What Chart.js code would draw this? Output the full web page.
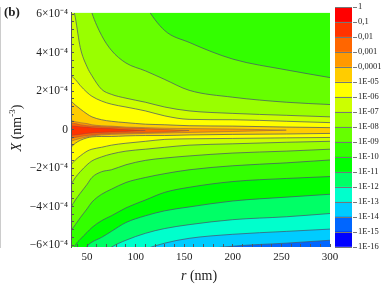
<!DOCTYPE html>
<html>
<head>
<meta charset="utf-8">
<script src="https://cdn.jsdelivr.net/npm/chart.js@4"></script>
<style>
    html, body { margin: 0; padding: 0; background: #fff; }
    #wrap { position: relative; width: 382px; height: 286px; overflow: hidden; font-family: "Liberation Serif", serif; color: #222; }
    canvas { position: absolute; left: 0; top: 0; }
    .label { position: absolute; white-space: nowrap; line-height: 1; }
    sup { font-size: 9px; line-height: 0; }
</style>
</head>
<body>
<div id="wrap">
    <canvas id="plot" width="382" height="286"></canvas>
    <canvas id="bar" width="382" height="286"></canvas>
    <div class="label" style="left:4px; top:5px; font-size:13px; font-weight:bold;">(b)</div>
    <div class="label" style="left:181px; top:269px; font-size:14px;"><i>r</i> (nm)</div>
    <div class="label" style="left:17px; top:128px; font-size:14px; transform: translate(-50%,-50%) rotate(-90deg);"><i>X</i> (nm<sup>-3</sup>)</div>
</div>
<script>
// r in nm, X in units of 1e-4 nm^-3
const rValues = [33.5, 38, 43, 50, 55, 65, 75, 90, 110, 130, 155, 200, 255, 300];

// contours above the centre ridge, outermost first
const upper9  = [14.61, 14.1, 13.59, 12.57, 12.06, 11.04, 10.03, 8.5, 6.46, 5.14, 4.53, 3.66, 3.10, 2.70];
const upper8  = [10.03, 9.26, 8.24, 6.97, 6.06, 4.89, 4.12, 3.46, 3.05, 2.60, 2.04, 1.68, 1.42, 1.30];
const upper7  = [6.87, 5.80, 4.27, 3.26, 2.80, 2.09, 1.83, 1.63, 1.42, 1.17, 0.97, 0.84, 0.74, 0.66];
const upper6  = [2.80, 2.60, 2.29, 1.93, 1.73, 1.48, 1.32, 1.17, 0.97, 0.71, 0.53, 0.51, 0.43, 0.36];
const upper5  = [1.48, 1.27, 1.07, 0.81, 0.66, 0.51, 0.43, 0.36, 0.28, 0.25, 0.20, 0.18, 0.13, 0.10];

// contours below the ridge, innermost first
const lower5  = [-0.92, -0.71, -0.56, -0.43, -0.38, -0.36, -0.36, -0.33, -0.31, -0.31, -0.28, -0.25, -0.23, -0.20];
const lower6  = [-1.83, -1.58, -1.37, -1.12, -1.02, -0.92, -0.81, -0.71, -0.61, -0.51, -0.48, -0.46, -0.43, -0.41];
const lower7  = [-2.85, -2.49, -2.19, -1.83, -1.63, -1.42, -1.27, -1.12, -1.02, -0.92, -0.81, -0.74, -0.66, -0.61];
const lower8  = [-4.02, -3.66, -3.31, -2.85, -2.49, -2.19, -2.09, -1.83, -1.60, -1.48, -1.37, -1.22, -1.12, -1.02];
const lower9  = [-5.24, -4.94, -4.58, -4.12, -3.77, -3.36, -3.10, -2.75, -2.49, -2.29, -2.09, -1.88, -1.73, -1.58];
const lower10 = [-6.56, -6.0, -5.70, -5.34, -5.09, -4.73, -4.48, -4.07, -3.66, -3.26, -3.00, -2.70, -2.54, -2.44];
const lower11 = [-7.79, -7.28, -6.67, -6.06, -5.85, -5.60, -5.29, -4.83, -4.48, -4.22, -4.02, -3.71, -3.51, -3.36];
const lower12 = [-8.30, -8.04, -7.68, -7.28, -7.02, -6.51, -6.11, -5.75, -5.39, -5.14, -4.94, -4.68, -4.53, -4.36];
const lower13 = [-9.82, -9.57, -9.31, -8.80, -8.55, -8.04, -7.53, -6.67, -6.21, -5.90, -5.65, -5.44, -5.29, -5.17];
const lower14 = [-11.35, -11.09, -10.84, -10.33, -9.82, -9.31, -8.80, -8.04, -7.28, -6.87, -6.36, -6.06, -5.90, -5.75];

// lens shaped bands on the ridge, they close before the right edge
const ridge4Top = [0.46, 0.41, 0.36, 0.31, 0.25, 0.20, 0.18, 0.13, 0.10, 0.07, 0.05, 0.03, -0.03, null];
const ridge4Bot = [-0.61, -0.53, -0.46, -0.38, -0.33, -0.28, -0.25, -0.23, -0.20, -0.18, -0.15, -0.10, -0.03, null];
const ridge3Top = [0.33, 0.31, 0.25, 0.20, 0.18, 0.15, 0.13, 0.08, 0.05, 0, -0.05, null, null, null];
const ridge3Bot = [-0.46, -0.41, -0.36, -0.31, -0.28, -0.23, -0.20, -0.18, -0.15, -0.13, -0.05, null, null, null];
const ridge2Top = [0.20, 0.18, 0.15, 0.13, 0.10, 0.08, 0.05, 0, -0.05, null, null, null, null, null];
const ridge2Bot = [-0.31, -0.28, -0.25, -0.20, -0.18, -0.15, -0.13, -0.10, -0.05, null, null, null, null, null];

const xTickValues = [50, 100, 150, 200, 250, 300];
const yTickValues = [6, 4, 2, 0, -2, -4, -6];
const yTickLabels = ['6×10⁻⁴', '4×10⁻⁴', '2×10⁻⁴', '0', '−2×10⁻⁴', '−4×10⁻⁴', '−6×10⁻⁴'];

const barLabels = ['1', '0,1', '0,01', '0,001', '0,0001', '1E-05', '1E-06', '1E-07', '1E-08', '1E-09', '1E-10', '1E-11', '1E-12', '1E-13', '1E-14', '1E-15', '1E-16'];
const barColors = ['#ff0000', '#ff3300', '#ff6600', '#ff9900', '#ffcc00', '#ffff00', '#ccff00', '#99ff00', '#66ff00', '#33ff00', '#00ff00', '#00ff66', '#00ffcc', '#00ccff', '#0066ff', '#0000ff'];

const LINE = 'rgba(70,80,110,0.8)';
const RIDGE_LINE = 'rgba(90,70,110,0.6)';
const AXIS = '#555';

function curve(values, color, fill, lineColor, lineWidth) {
    return {
        data: values.map((v, i) => ({ x: rValues[i], y: v })),
        borderColor: lineColor || LINE,
        borderWidth: lineWidth || 0.9,
        backgroundColor: color,
        fill: fill,
        pointRadius: 0,
        cubicInterpolationMode: 'monotone'
    };
}

// painted in this order, each one covers everything below itself
const datasets = [
    curve(upper9, '#66ff00', 'start'),
    curve(upper8, '#99ff00', 'start'),
    curve(upper7, '#ccff00', 'start'),
    curve(upper6, '#ffff00', 'start'),
    curve(upper5, '#ffcc00', 'start'),
    curve(lower5, '#ffff00', 'start'),
    curve(lower6, '#ccff00', 'start'),
    curve(lower7, '#99ff00', 'start'),
    curve(lower8, '#66ff00', 'start'),
    curve(lower9, '#33ff00', 'start'),
    curve(lower10, '#00ff00', 'start'),
    curve(lower11, '#00ff66', 'start'),
    curve(lower12, '#00ffcc', 'start'),
    curve(lower13, '#00ccff', 'start'),
    curve(lower14, '#0066ff', 'start'),
    curve(ridge4Top, '#ff9900', '+1', RIDGE_LINE, 0.7),
    curve(ridge4Bot, '#ff9900', false, RIDGE_LINE, 0.7),
    curve(ridge3Top, '#ff6600', '+1', RIDGE_LINE, 0.6),
    curve(ridge3Bot, '#ff6600', false, RIDGE_LINE, 0.6),
    curve(ridge2Top, '#ff3300', '+1', RIDGE_LINE, 0.5),
    curve(ridge2Bot, '#ff3300', false, RIDGE_LINE, 0.5)
];
datasets.forEach((d, i) => { d.order = datasets.length - i; });

new Chart(document.getElementById('plot'), {
    type: 'line',
    data: { datasets: datasets },
    options: {
        responsive: false,
        animation: false,
        layout: { padding: { top: 8, right: 52, left: 0, bottom: 0 } },
        plugins: { legend: { display: false }, tooltip: { enabled: false } },
        scales: {
            x: {
                type: 'linear',
                min: 33.5,
                max: 300,
                afterFit: s => { s.height = 39; },
                border: { display: false },
                grid: { drawOnChartArea: false, tickLength: -3, color: AXIS, z: 1 },
                ticks: {
                    stepSize: 10,
                    includeBounds: false,
                    autoSkip: false,
                    maxRotation: 0,
                    padding: 7,
                    color: '#222',
                    font: { family: '"Liberation Serif", serif', size: 11 },
                    callback: v => xTickValues.includes(v) ? String(v) : ''
                }
            },
            y: {
                min: -6.1,
                max: 6.06,
                afterFit: s => { s.width = 71; },
                border: { color: AXIS, z: 1 },
                grid: { drawOnChartArea: false, tickLength: -3, color: AXIS, z: 1 },
                ticks: {
                    stepSize: 0.4,
                    includeBounds: false,
                    autoSkip: false,
                    padding: 6,
                    color: '#222',
                    font: { family: '"Liberation Serif", serif', size: 11.5 },
                    callback: v => {
                        const i = yTickValues.indexOf(Math.round(v * 10) / 10);
                        return i < 0 ? '' : yTickLabels[i];
                    }
                }
            }
        }
    },
    plugins: [{
        id: 'topBand',
        beforeDraw(chart) {
            const a = chart.chartArea;
            chart.ctx.fillStyle = '#33ff00';
            chart.ctx.fillRect(a.left, a.top, a.width, a.height);
        }
    }]
});

// colour key, stacked from the bottom cell up
new Chart(document.getElementById('bar'), {
    type: 'bar',
    data: {
        labels: [''],
        datasets: barColors.slice().reverse().map(c => ({ data: [1], backgroundColor: c }))
    },
    options: {
        responsive: false,
        animation: false,
        barPercentage: 1,
        categoryPercentage: 1,
        layout: { padding: { top: 7, left: 335, right: 0, bottom: 39 } },
        plugins: { legend: { display: false }, tooltip: { enabled: false } },
        scales: {
            x: { stacked: true, display: false },
            y: {
                stacked: true,
                position: 'right',
                min: 0,
                max: 16,
                afterFit: s => { s.width = 30; },
                border: { color: '#999' },
                grid: { color: '#777', tickLength: 5, z: 1 },
                ticks: {
                    stepSize: 1,
                    autoSkip: false,
                    padding: 1,
                    color: '#222',
                    font: { family: '"Liberation Serif", serif', size: 8.5 },
                    callback: v => barLabels[16 - v]
                }
            }
        }
    }
});
</script>
</body>
</html>
